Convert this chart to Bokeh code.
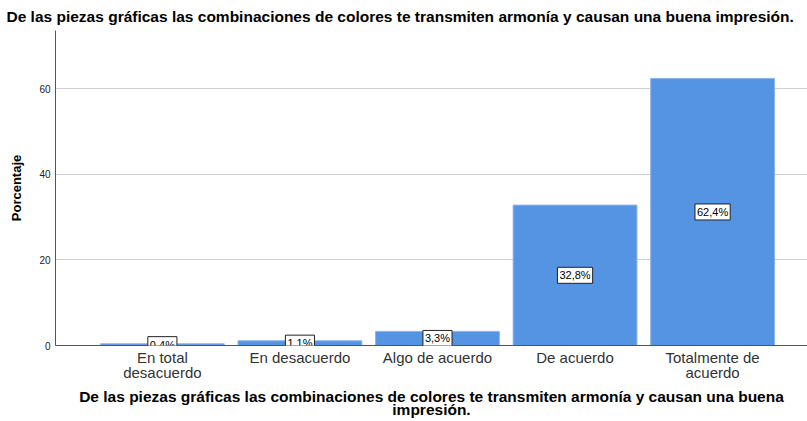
from bokeh.plotting import figure
from bokeh.models import ColumnDataSource, Label, FixedTicker, Range1d
from bokeh.embed import file_html
from bokeh.resources import INLINE

categories = ["En total\ndesacuerdo", "En desacuerdo", "Algo de acuerdo", "De acuerdo", "Totalmente de\nacuerdo"]
values = [0.4, 1.1, 3.3, 32.8, 62.4]
value_labels = ["0,4%", "1,1%", "3,3%", "32,8%", "62,4%"]
y_ticks = [0, 20, 40, 60]
title_text = "De las piezas gráficas las combinaciones de colores te transmiten armonía y causan una buena impresión."
x_title = "De las piezas gráficas las combinaciones de colores te transmiten armonía y causan una buena\nimpresión."
y_title = "Porcentaje"

xs = list(range(len(categories)))
src = ColumnDataSource(dict(x=xs, top=values))

p = figure(width=807, height=421, output_backend="svg", toolbar_location=None,
           x_range=Range1d(-0.777, 4.69), y_range=Range1d(0, 73.6),
           min_border_left=55, min_border_right=0, min_border_top=0, min_border_bottom=75)

p.title.text = title_text
p.title.text_font = "Liberation Sans"
p.title.text_font_size = "15.5px"
p.title.text_font_style = "bold"
p.title.align = "left"
p.title.offset = -49
p.title.standoff = 11
p.title.text_color = "#000000"

p.vbar(x="x", top="top", width=0.9, bottom=0, source=src, fill_color="#5593E3", line_color="#8AB4EC", line_width=1)

for xi, v, lab in zip(xs, values, value_labels):
    p.add_layout(Label(x=xi, y=v / 2, text=lab, text_align="center", text_baseline="middle",
                       text_font="Liberation Sans", text_font_size="11px", text_color="#000000",
                       background_fill_color="white", border_line_color="#222222", border_line_width=1,
                       padding=2))

for ax in (p.xaxis, p.yaxis):
    ax.major_tick_out = 0
    ax.major_tick_in = 0
    ax.minor_tick_out = 0
    ax.minor_tick_in = 0
    ax.major_tick_line_color = None
    ax.minor_tick_line_color = None
    ax.axis_line_color = "#555555"

p.xaxis.ticker = FixedTicker(ticks=xs)
p.xaxis.major_label_overrides = {i: c for i, c in enumerate(categories)}
p.xaxis.major_label_text_font = "Liberation Sans"
p.xaxis.major_label_text_font_size = "15px"
p.xaxis.major_label_text_line_height = 0.9
p.xaxis.major_label_text_color = "#333333"
p.xaxis.major_label_standoff = 3
p.xaxis.axis_label = x_title
p.xaxis.axis_label_text_font = "Liberation Sans"
p.xaxis.axis_label_text_font_size = "15.5px"
p.xaxis.axis_label_text_line_height = 0.8
p.xaxis.axis_label_text_font_style = "bold"
p.xaxis.axis_label_standoff = 4
p.xaxis.axis_label_text_color = "#000000"

p.yaxis.ticker = FixedTicker(ticks=y_ticks)
p.yaxis.major_label_text_font = "Liberation Sans"
p.yaxis.major_label_text_font_size = "10px"
p.yaxis.major_label_text_color = "#222222"
p.yaxis.major_label_standoff = 5
p.yaxis.axis_label = y_title
p.yaxis.axis_label_text_font = "Liberation Sans"
p.yaxis.axis_label_text_font_size = "13px"
p.yaxis.axis_label_text_font_style = "bold"
p.yaxis.axis_label_standoff = 12
p.yaxis.axis_label_text_color = "#000000"

p.xgrid.grid_line_color = None
p.ygrid.grid_line_color = "#D0D0D0"
p.ygrid.ticker = FixedTicker(ticks=[20, 40, 60])
p.outline_line_color = None
p.background_fill_color = "white"
p.border_fill_color = "white"

open("out.html", "w").write(file_html(p, INLINE))
